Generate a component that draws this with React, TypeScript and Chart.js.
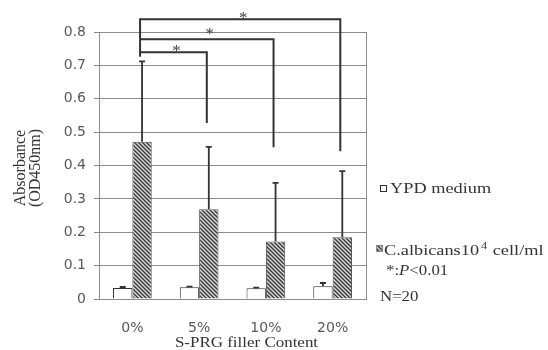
import React, { useEffect, useRef } from "react";
import { Chart, registerables } from "chart.js";

Chart.register(...registerables);

const categories = ["0%", "5%", "10%", "20%"];
const ypdValues = [0.033, 0.035, 0.032, 0.038];
const ypdErrors = [0.003, 0.002, 0.002, 0.01];
const albValues = [0.471, 0.269, 0.172, 0.185];
const albErrors = [0.241, 0.187, 0.176, 0.198];
const yTicks = [0, 0.1, 0.2, 0.3, 0.4, 0.5, 0.6, 0.7, 0.8];
// significance brackets (values in axis units)
const bracketFrom = [0, 0, 0];
const bracketTo = [1, 2, 3];
const bracketLevel = [0.739, 0.778, 0.838];
const bracketRightEnd = [0.527, 0.455, 0.443];
const bracketLeftEnd = 0.726;
const starLevel = [0.754, 0.807, 0.855];

const SERIF = "'Liberation Serif', 'Times New Roman', serif";
const SANS = "'DejaVu Sans', Arial, sans-serif";

function makePattern(): CanvasPattern | string {
  const c = document.createElement("canvas");
  c.width = 4;
  c.height = 4;
  const g = c.getContext("2d");
  if (!g) return "#777";
  g.fillStyle = "#d8d8d8";
  g.fillRect(0, 0, 4, 4);
  g.strokeStyle = "#3a3a3a";
  g.lineWidth = 1.4;
  g.beginPath();
  g.moveTo(-1, -1);
  g.lineTo(5, 5);
  g.moveTo(-1, 3);
  g.lineTo(1, 5);
  g.moveTo(3, -1);
  g.lineTo(5, 1);
  g.stroke();
  const p = g.createPattern(c, "repeat");
  return p || "#777";
}

function stretchText(ctx: CanvasRenderingContext2D, t: string, x: number, y: number, sx: number): number {
  ctx.save();
  ctx.translate(x, y);
  ctx.scale(sx, 1);
  ctx.fillText(t, 0, 0);
  const w = ctx.measureText(t).width * sx;
  ctx.restore();
  return w;
}

export default function App() {
  const ref = useRef<HTMLCanvasElement | null>(null);
  useEffect(() => {
    document.body.style.margin = "0";
    const canvas = ref.current;
    if (!canvas) return;
    const pattern = makePattern();

    const overlay = {
      id: "overlay",
      afterDraw(chart: any) {
        const ctx = chart.ctx as CanvasRenderingContext2D;
        const ca = chart.chartArea;
        const y = chart.scales.y;
        ctx.save();
        // right border of plot
        ctx.strokeStyle = "#8c8c8c";
        ctx.lineWidth = 1;
        ctx.beginPath();
        ctx.moveTo(Math.round(ca.right) + 0.5, ca.top);
        ctx.lineTo(Math.round(ca.right) + 0.5, ca.bottom);
        ctx.stroke();

        // error bars (upper only)
        const errs = [ypdErrors, albErrors];
        const vals = [ypdValues, albValues];
        ctx.strokeStyle = "#333";
        ctx.lineWidth = 1.8;
        for (let d = 0; d < 2; d++) {
          const meta = chart.getDatasetMeta(d);
          meta.data.forEach((bar: any, i: number) => {
            const top = y.getPixelForValue(vals[d][i] + errs[d][i]);
            const base = y.getPixelForValue(vals[d][i]);
            ctx.beginPath();
            ctx.moveTo(bar.x, base);
            ctx.lineTo(bar.x, top);
            ctx.moveTo(bar.x - 3, top);
            ctx.lineTo(bar.x + 3, top);
            ctx.stroke();
          });
        }

        // significance brackets
        const albMeta = chart.getDatasetMeta(1);
        const bx = (i: number) => albMeta.data[i].x - 2;
        ctx.strokeStyle = "#333";
        ctx.lineWidth = 2;
        let leftTop = Infinity;
        for (let k = 0; k < bracketLevel.length; k++) {
          const ly = y.getPixelForValue(bracketLevel[k]);
          const x1 = bx(bracketFrom[k]);
          const x2 = bx(bracketTo[k]);
          ctx.beginPath();
          ctx.moveTo(x1, ly);
          ctx.lineTo(x2, ly);
          ctx.lineTo(x2, y.getPixelForValue(bracketRightEnd[k]));
          ctx.stroke();
          leftTop = Math.min(leftTop, ly);
          ctx.fillStyle = "#444";
          ctx.font = `17px ${SERIF}`;
          ctx.textAlign = "center";
          ctx.textBaseline = "alphabetic";
          ctx.fillText("*", (x1 + x2) / 2 + 3, y.getPixelForValue(starLevel[k]) + 9);
        }
        ctx.beginPath();
        ctx.moveTo(bx(0), leftTop - 1);
        ctx.lineTo(bx(0), y.getPixelForValue(bracketLeftEnd));
        ctx.stroke();

        // y axis title
        ctx.fillStyle = "#333";
        ctx.font = `16px ${SERIF}`;
        ctx.textAlign = "center";
        ctx.textBaseline = "middle";
        ctx.save();
        ctx.translate(21, 168);
        ctx.rotate(-Math.PI / 2);
        ctx.fillText("Absorbance", 0, 0);
        ctx.fillText("(OD450nm)", 0, 15);
        ctx.restore();

        // x axis title
        ctx.font = `15px ${SERIF}`;
        ctx.textAlign = "left";
        {
          const t = "S-PRG filler Content";
          const w = ctx.measureText(t).width * 1.13;
          stretchText(ctx, t, 246.5 - w / 2, 343, 1.13);
        }

        // legend
        ctx.lineWidth = 1;
        ctx.strokeStyle = "#333";
        ctx.fillStyle = "#fff";
        ctx.fillRect(380.5, 185.5, 6, 6);
        ctx.strokeRect(380.5, 185.5, 6, 6);
        ctx.fillStyle = pattern as any;
        ctx.fillRect(376.5, 245.5, 6, 6);
        ctx.strokeStyle = "#888";
        ctx.strokeRect(376.5, 245.5, 6, 6);
        ctx.fillStyle = "#333";
        const sx = 1.22;
        ctx.font = `15px ${SERIF}`;
        stretchText(ctx, "YPD medium", 390, 189, sx);
        let x = 384;
        x += stretchText(ctx, "C.albicans10", x, 251, sx);
        ctx.font = `10px ${SERIF}`;
        x += stretchText(ctx, "4", x + 2, 246, sx) + 3;
        ctx.font = `15px ${SERIF}`;
        stretchText(ctx, " cell/ml", x, 251, sx);
        ctx.font = `14px ${SERIF}`;
        x = 386;
        x += stretchText(ctx, "*:", x, 271, 1.2);
        ctx.font = `italic 14px ${SERIF}`;
        x += stretchText(ctx, "P", x, 271, 1.2);
        ctx.font = `14px ${SERIF}`;
        stretchText(ctx, "<0.01", x, 271, 1.2);
        stretchText(ctx, "N=20", 380, 297, 1.2);
        ctx.restore();
      },
    };

    const chart = new Chart(canvas, {
      type: "bar",
      data: {
        labels: categories,
        datasets: [
          {
            label: "YPD medium",
            data: ypdValues,
            backgroundColor: "#ffffff",
            borderColor: "#333",
            borderWidth: 1,
            categoryPercentage: 0.58,
            barPercentage: 1,
          },
          {
            label: "C.albicans10^4 cell/ml",
            data: albValues,
            backgroundColor: pattern as any,
            borderColor: "#555",
            borderWidth: 1,
            categoryPercentage: 0.58,
            barPercentage: 1,
          },
        ],
      },
      options: {
        responsive: false,
        animation: false,
        layout: { padding: { top: 32, right: 182, left: 0, bottom: 0 } },
        plugins: { legend: { display: false }, tooltip: { enabled: false } },
        scales: {
          x: {
            grid: { display: false, drawTicks: false },
            border: { display: true, color: "#8c8c8c", width: 1 },
            ticks: { color: "#595959", font: { family: SANS, size: 14 }, padding: 21 },
            afterFit: (s: any) => {
              s.height = 51;
            },
          },
          y: {
            min: 0,
            max: 0.8,
            afterBuildTicks: (s: any) => {
              s.ticks = yTicks.map((v) => ({ value: v }));
            },
            grid: { color: "#8c8c8c", lineWidth: 1, tickLength: 5 },
            border: { display: true, color: "#8c8c8c", width: 1 },
            ticks: {
              color: "#595959",
              font: { family: SANS, size: 14 },
              padding: 8,
              callback: (v: any) => (Number(v) === 0 ? "0" : Number(v).toFixed(1)),
            },
            afterFit: (s: any) => {
              s.width = 99;
            },
          },
        },
      },
      plugins: [overlay],
    });
    return () => chart.destroy();
  }, []);
  return (
    <div style={{ width: 548, height: 350, background: "#fff" }}>
      <canvas ref={ref} width={548} height={350} style={{ width: 548, height: 350 }} />
    </div>
  );
}
